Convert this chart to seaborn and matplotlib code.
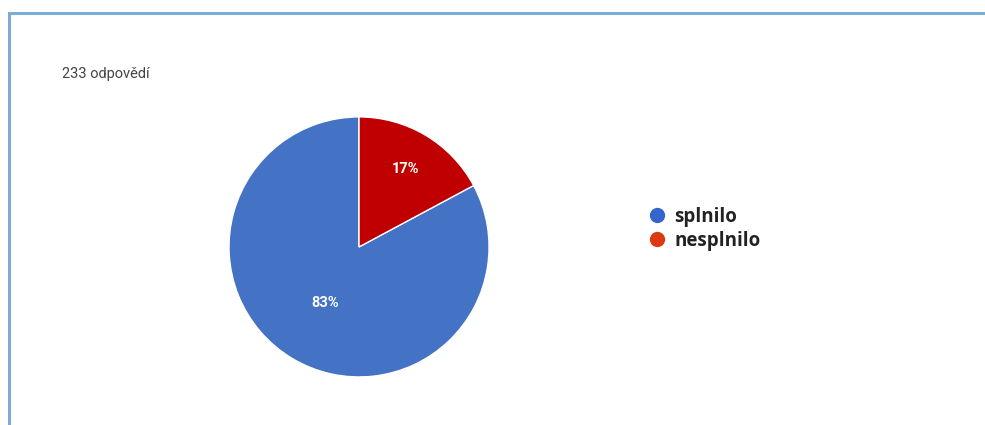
import numpy as np
import matplotlib
matplotlib.use("Agg")
import matplotlib.pyplot as plt
from matplotlib.lines import Line2D
from matplotlib.patches import Rectangle
import seaborn as sns

# data
categories = ["splnilo", "nesplnilo"]
counts = [193, 40]
pct_labels = ["83%", "17%"]
title_text = "233 odpovědí"

slice_colors = ["#4472C4", "#C00000"]
legend_colors = ["#3366CC", "#DC3912"]

sns.set_theme(style="white")
plt.rcParams['font.family'] = ['Roboto', 'DejaVu Sans']

fig = plt.figure(figsize=(9.85, 4.25), dpi=100)
fig.patch.set_facecolor("white")

# frame border (top and left)
fig.add_artist(Rectangle((8/985, 0), 3/985, 1 - 12/425, transform=fig.transFigure,
                         facecolor="#7AACD6", edgecolor="none"))
fig.add_artist(Rectangle((8/985, 1 - 15/425), 1 - 8/985, 3/425, transform=fig.transFigure,
                         facecolor="#7AACD6", edgecolor="none"))

ax = fig.add_axes([0.2325, 0.113, 0.264, 0.612])
wedges, _ = ax.pie(counts, colors=slice_colors, startangle=90, counterclock=True,
                   wedgeprops=dict(edgecolor="white", linewidth=1))
ax.set_aspect("equal")
ax.set_xlim(-1, 1)
ax.set_ylim(-1, 1)
ax.axis("off")

dists = [0.5, 0.7]
for w, lab, d in zip(wedges, pct_labels, dists):
    mid = np.deg2rad((w.theta1 + w.theta2) / 2)
    ax.text(d * np.cos(mid), d * np.sin(mid), lab, ha="center", va="center",
            color="white", fontsize=10.5, fontweight="bold")

fig.text(62/985, 1 - 74/425, title_text, fontsize=10.5, color="#444444",
         ha="left", va="center")

handles = [Line2D([0], [0], marker="o", linestyle="none", markersize=10,
                  markerfacecolor=c, markeredgecolor=c) for c in legend_colors]
leg = fig.legend(handles, categories, loc="upper left",
                 bbox_to_anchor=(648/985, 1 - 207/425), frameon=False,
                 handletextpad=0.4, labelspacing=0.2, borderaxespad=0,
                 borderpad=0, handlelength=1.0,
                 prop=dict(family=["Open Sans", "DejaVu Sans"], size=13.5,
                           weight="bold"))
for t in leg.get_texts():
    t.set_color("#222222")

fig.savefig("out.png", dpi=100, facecolor="white")
